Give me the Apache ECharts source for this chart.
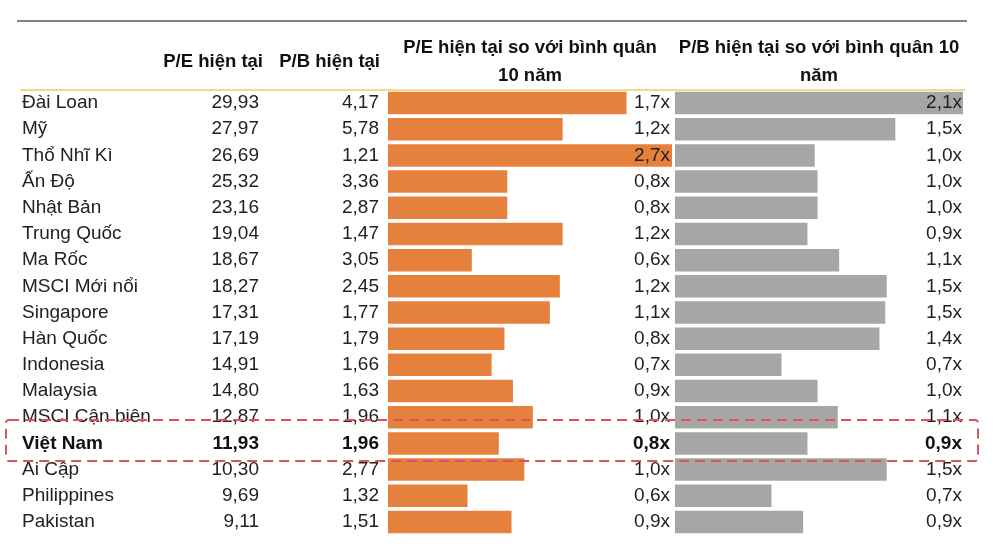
<!DOCTYPE html>
<html>
<head>
<meta charset="utf-8">
<script src="https://cdn.jsdelivr.net/npm/echarts@6/dist/echarts.min.js"></script>
<style>html,body{margin:0;padding:0;background:#fff}#c{width:1000px;height:547px}</style>
</head>
<body>
<div id="c"></div>
<script>
const countries = ['Đài Loan','Mỹ','Thổ Nhĩ Kì','Ấn Độ','Nhật Bản','Trung Quốc','Ma Rốc','MSCI Mới nổi','Singapore','Hàn Quốc','Indonesia','Malaysia','MSCI Cận biên','Việt Nam','Ai Cập','Philippines','Pakistan'];
const peNow = [29.93,27.97,26.69,25.32,23.16,19.04,18.67,18.27,17.31,17.19,14.91,14.80,12.87,11.93,10.30,9.69,9.11];
const pbNow = [4.17,5.78,1.21,3.36,2.87,1.47,3.05,2.45,1.77,1.79,1.66,1.63,1.96,1.96,2.77,1.32,1.51];
const peVsAvg = [1.68,1.23,2.7,0.84,0.84,1.23,0.59,1.21,1.14,0.82,0.73,0.88,1.02,0.78,0.96,0.56,0.87];
const pbVsAvg = [2.1,1.53,0.97,0.99,0.99,0.92,1.14,1.47,1.46,1.42,0.74,0.99,1.13,0.92,1.47,0.67,0.89];
const headers = ['P/E hiện tại','P/B hiện tại','P/E hiện tại so với bình quân','10 năm','P/B hiện tại so với bình quân 10','năm'];
const highlightRow = 'Việt Nam';

const FONT = '"Liberation Sans", Arial, sans-serif';
const TXT = '#222';
const fmt2 = v => v.toFixed(2).replace('.', ',');
const fmtX = v => v.toFixed(1).replace('.', ',') + 'x';
const hiIndex = countries.indexOf(highlightRow);

function labelAxis(grid, data, position, margin, align, inside) {
  return {
    type: 'category', gridIndex: grid, data: data, inverse: true, position: position,
    z: 10,
    axisLine: {show: false}, axisTick: {show: false}, splitLine: {show: false},
    axisLabel: {
      show: true, interval: 0, margin: margin, align: align, inside: !!inside,
      color: TXT, fontFamily: FONT, fontSize: 19,
      formatter: (v, i) => i === hiIndex ? '{b|' + v + '}' : v,
      rich: {b: {fontWeight: 'bold', fontFamily: FONT, fontSize: 19, color: '#111'}}
    }
  };
}

const chart = echarts.init(document.getElementById('c'), null, {renderer: 'canvas'});
const hdr = (text, x, y, align) => ({
  type: 'text', x: x, y: y,
  style: {text: text, fill: '#111', font: 'bold 18.5px ' + FONT, textAlign: align, textVerticalAlign: 'middle'}
});
chart.setOption({
  animation: false,
  backgroundColor: '#fff',
  grid: [
    {left: 388, width: 284, top: 90, height: 445},
    {left: 675, width: 288, top: 90, height: 445}
  ],
  xAxis: [
    {type: 'value', gridIndex: 0, min: 0, max: 2, show: false},
    {type: 'value', gridIndex: 1, min: 0, max: 2, show: false}
  ],
  yAxis: [
    labelAxis(0, countries, 'left', 366, 'left'),
    labelAxis(0, peNow.map(fmt2), 'left', 129, 'right'),
    labelAxis(0, pbNow.map(fmt2), 'left', 9, 'right'),
    labelAxis(0, peVsAvg.map(fmtX), 'right', 2, 'right', true),
    labelAxis(1, pbVsAvg.map(fmtX), 'right', 1, 'right', true)
  ],
  series: [
    {type: 'bar', xAxisIndex: 0, yAxisIndex: 0, data: peVsAvg, barWidth: 22.5, clip: true,
     itemStyle: {color: '#e5813d'}, z: 2},
    {type: 'bar', xAxisIndex: 1, yAxisIndex: 4, data: pbVsAvg, barWidth: 22.5, clip: true,
     itemStyle: {color: '#a6a6a6'}, z: 2}
  ],
  graphic: [
    {type: 'line', shape: {x1: 17, y1: 21, x2: 967, y2: 21}, style: {stroke: '#808080', lineWidth: 2}},
    {type: 'line', shape: {x1: 20, y1: 90, x2: 965, y2: 90}, style: {stroke: '#f1dc86', lineWidth: 2}},
    hdr(headers[0], 263, 62, 'right'),
    hdr(headers[1], 380, 62, 'right'),
    hdr(headers[2], 530, 48, 'center'),
    hdr(headers[3], 530, 76, 'center'),
    hdr(headers[4], 819, 48, 'center'),
    hdr(headers[5], 819, 76, 'center'),
    {type: 'rect', z: 100, shape: {x: 6, y: 420, width: 972, height: 41, r: 3},
     style: {fill: 'none', stroke: '#d4575f', lineWidth: 2, lineDash: [10, 6]}}
  ]
});
</script>
</body>
</html>
